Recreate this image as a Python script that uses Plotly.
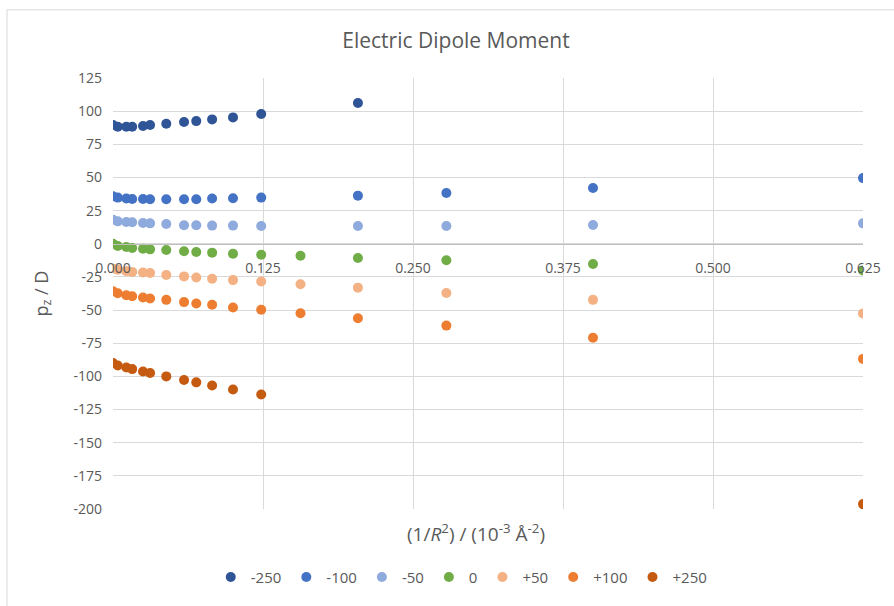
import plotly.graph_objects as go

# x = 1/R^2 in 10^-3 Å^-2
x_near = [0.0, 0.004, 0.0111, 0.016, 0.025, 0.0309, 0.0444, 0.0592, 0.0694, 0.0826, 0.1, 0.1235]
x_far_a = [0.2041]                              # -250
x_far_b = [0.2041, 0.2778, 0.4, 0.625]          # -100, -50
x_far_c = [0.15625, 0.2041, 0.2778, 0.4, 0.625] # 0, +50, +100
x_far_d = [0.625]                               # +250

series_names = ["-250", "-100", "-50", "0", "+50", "+100", "+250"]
colors = ["#2F5597", "#4472C4", "#8FAADC", "#70AD47", "#F4B183", "#ED7D31", "#C55A11"]

y_m250 = [89.6, 88.3, 88.3, 88.3, 88.8, 89.6, 90.5, 91.8, 92.5, 93.8, 95.3, 97.8, 106.2]
y_m100 = [35.8, 34.8, 34.1, 33.8, 33.8, 33.6, 33.6, 33.6, 33.6, 34.1, 34.3, 34.8, 36.3, 38.3, 42.0, 49.5]
y_m50 = [18.1, 16.9, 16.4, 16.2, 15.7, 15.4, 14.9, 14.0, 14.0, 13.7, 13.7, 13.4, 13.4, 13.4, 14.2, 15.4]
y_0 = [0.0, -1.7, -2.5, -3.2, -3.7, -4.2, -4.7, -5.7, -6.2, -6.7, -7.5, -8.3, -9.0, -10.7, -12.4, -15.2, -20.1]
y_p50 = [-18.8, -19.6, -20.6, -21.2, -21.7, -22.1, -23.6, -24.6, -25.4, -26.4, -27.4, -28.4, -30.5, -33.1, -37.1, -42.3, -52.5]
y_p100 = [-35.8, -37.3, -38.8, -39.6, -40.5, -41.3, -42.3, -44.0, -45.0, -46.0, -48.0, -49.7, -52.4, -56.2, -61.7, -70.9, -86.8]
y_p250 = [-90.0, -91.8, -93.3, -94.5, -96.3, -97.5, -100.0, -102.7, -104.5, -106.9, -109.9, -113.7, -196.3]

xs = [x_near + x_far_a, x_near + x_far_b, x_near + x_far_b, x_near + x_far_c,
      x_near + x_far_c, x_near + x_far_c, x_near + x_far_d]
ys = [y_m250, y_m100, y_m50, y_0, y_p50, y_p100, y_p250]

y_ticks = list(range(-200, 126, 25))
y_ticktext = [str(v) if v >= 0 else "-" + str(-v) for v in y_ticks]
x_ticks = [0.0, 0.125, 0.25, 0.375, 0.5, 0.625]
x_ticktext = ["0.000", "0.125", "0.250", "0.375", "0.500", "0.625"]

FONT = "Open Sans"
GRAY = "#595959"

fig = go.Figure()
for name, c, x, y in zip(series_names, colors, xs, ys):
    fig.add_trace(go.Scatter(x=x, y=y, mode="markers", name=name,
                             marker=dict(color=c, size=10, line=dict(width=0))))

ymin, ymax = -200, 125
fig.update_layout(
    width=894, height=606,
    margin=dict(l=113, r=31, t=78, b=92),
    paper_bgcolor="white", plot_bgcolor="white",
    font=dict(family=FONT, color=GRAY, size=14),
    title=dict(text="Electric Dipole Moment", x=(456) / 894, xanchor="center", y=1 - 41 / 606,
               yanchor="middle", font=dict(size=21, color=GRAY, family=FONT)),
    xaxis=dict(range=[0, 0.625], tickvals=x_ticks, ticktext=x_ticktext,
               showgrid=True, gridcolor="#D9D9D9", gridwidth=1,
               zeroline=False, showline=True, linecolor="#BFBFBF", linewidth=1,
               anchor="free", position=(0 - ymin) / (ymax - ymin),
               ticks="", ticklabelstandoff=11,
               tickfont=dict(size=14, color=GRAY)),
    yaxis=dict(range=[ymin, ymax], tickvals=y_ticks, ticktext=y_ticktext,
               showgrid=True, gridcolor="#D9D9D9", gridwidth=1,
               zeroline=False, showline=False, ticks="", ticklabelstandoff=10,
               tickfont=dict(size=14, color=GRAY)),
    legend=dict(orientation="h", x=0.465, xanchor="center", y=-(583 - 514) / 436,
                yanchor="middle", font=dict(size=15, color=GRAY),
                itemwidth=30, tracegroupgap=0, bgcolor="rgba(0,0,0,0)"),
    showlegend=True,
)

# x-axis title
fig.add_annotation(text="(1/<i>R</i><sup>2</sup>) / (10<sup>-3</sup> Å<sup>-2</sup>)",
                   xref="paper", yref="paper", x=(476 - 113) / 750, y=-(538 - 514) / 436,
                   xanchor="center", yanchor="middle", showarrow=False,
                   font=dict(size=19, color=GRAY, family=FONT))
# y-axis title
fig.add_annotation(text="p<sub>z</sub> / D", xref="paper", yref="paper",
                   x=(42 - 113) / 750, y=(514 - 296) / 436, textangle=-90,
                   xanchor="center", yanchor="middle", showarrow=False,
                   font=dict(size=18, color=GRAY, family=FONT))
# chart border
fig.add_shape(type="rect", xref="paper", yref="paper",
              x0=(7 - 113) / 750, x1=(900 - 113) / 750,
              y0=(514 - 620) / 436, y1=(514 - 9) / 436,
              line=dict(color="#D9D9D9", width=1), fillcolor="rgba(0,0,0,0)", layer="below")

fig.write_html("out.html")
